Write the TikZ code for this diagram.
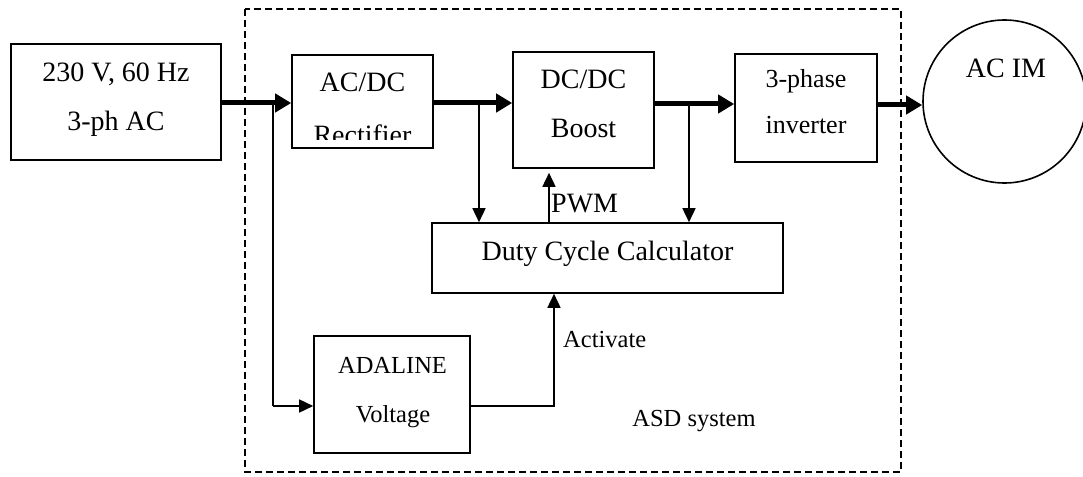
\documentclass[tikz,border=0pt]{standalone}
\usepackage{fontspec}
\setmainfont{Liberation Serif}
\usetikzlibrary{arrows.meta}
\begin{document}
\begin{tikzpicture}[x=1pt,y=-1pt,
  box/.style={draw,line width=1.6pt,inner sep=0pt},
  txt/.style={anchor=base,inner sep=0pt,font=\fontsize{28}{34}\selectfont},
  txts/.style={anchor=base,inner sep=0pt,font=\fontsize{24.5}{30}\selectfont},
  txti/.style={anchor=base,inner sep=0pt,font=\fontsize{26}{32}\selectfont},
  power/.style={line width=5pt,-{Triangle[length=16pt,width=18pt]}},
  sig/.style={line width=1.6pt,-{Triangle[length=14pt,width=13pt]}},
  wire/.style={line width=1.6pt},
  asdbox/.style={draw,line width=1.5pt,dash pattern=on 7pt off 4pt}]
\useasboundingbox (0,0) rectangle (1083,476);
% dashed ASD system frame
\draw[asdbox] (245,9) rectangle (901,472);
% boxes
\node[box,minimum width=210,minimum height=116] (src) at (116,102) {};
\node[box,minimum width=141,minimum height=93] (acdc) at (362.5,101.5) {};
\node[box,minimum width=141,minimum height=116] (dcdc) at (583.5,110) {};
\node[box,minimum width=142,minimum height=108] (inv) at (806,108) {};
\node[draw,circle,line width=1.6pt,minimum size=163,inner sep=0pt] (im) at (1004.5,101.5) {};
\node[box,minimum width=351,minimum height=70] (duty) at (607.5,258) {};
\node[box,minimum width=156,minimum height=117] (ada) at (392,394.5) {};
% texts
\node[txt] (t1) at (116,82) {230 V, 60 Hz};
\node[txt] (t2) at (116,130) {3-ph AC};
\node[txt] (t3) at (362.5,92) {AC/DC};
\begin{scope}
\clip (292,55) rectangle (433,139);
\node[txt] (t4) at (362.5,144) {Rectifier};
\end{scope}
\node[txt] (t5) at (583.5,89) {DC/DC};
\node[txt] (t6) at (583.5,137) {Boost};
\node[txti] (t7) at (806,88) {3-phase};
\node[txti] (t8) at (806,133) {inverter};
\node[txt] (t9) at (1006,78) {AC IM};
\node[txt] (t10) at (607.5,260) {Duty Cycle Calculator};
\node[txts] (t11) at (392.5,373) {ADALINE};
\node[txts] (t12) at (393,422) {Voltage};
\node[txts] (t13) at (694,426) {ASD system};
\node[txts,anchor=base west] (t14) at (563,347) {Activate};
\node[txt,anchor=base west] (t15) at (551,212) {PWM};
% helper coordinates
\coordinate (yA) at (0,103);
\coordinate (yB) at (0,104);
\coordinate (yC) at (0,105);
\coordinate (j1) at (273,103);
\coordinate (j2) at (479,103);
\coordinate (j3) at (689,104);
\coordinate (k1) at (273,406);
\coordinate (xP) at (549,0);
\coordinate (xA) at (554,0);
\coordinate (k2) at (554,406);
% power path
\draw[power] (src.east |- yA) -- (acdc.west |- yA);
\draw[power] (acdc.east |- yA) -- (dcdc.west |- yA);
\draw[power] (dcdc.east |- yB) -- (inv.west |- yB);
\draw[power] (inv.east |- yC) -- (im.west |- yC);
% signal paths
\draw[wire] (j1) -- (k1);
\draw[sig] (k1) -- (ada.west |- k1);
\draw[sig] (j2) -- (j2 |- duty.north);
\draw[sig] (j3) -- (j3 |- duty.north);
\draw[sig,shorten >=4pt] (xP |- duty.north) -- (xP |- dcdc.south);
\draw[sig] (ada.east |- k2) -- (k2) -- (xA |- duty.south);
\end{tikzpicture}
\end{document}
